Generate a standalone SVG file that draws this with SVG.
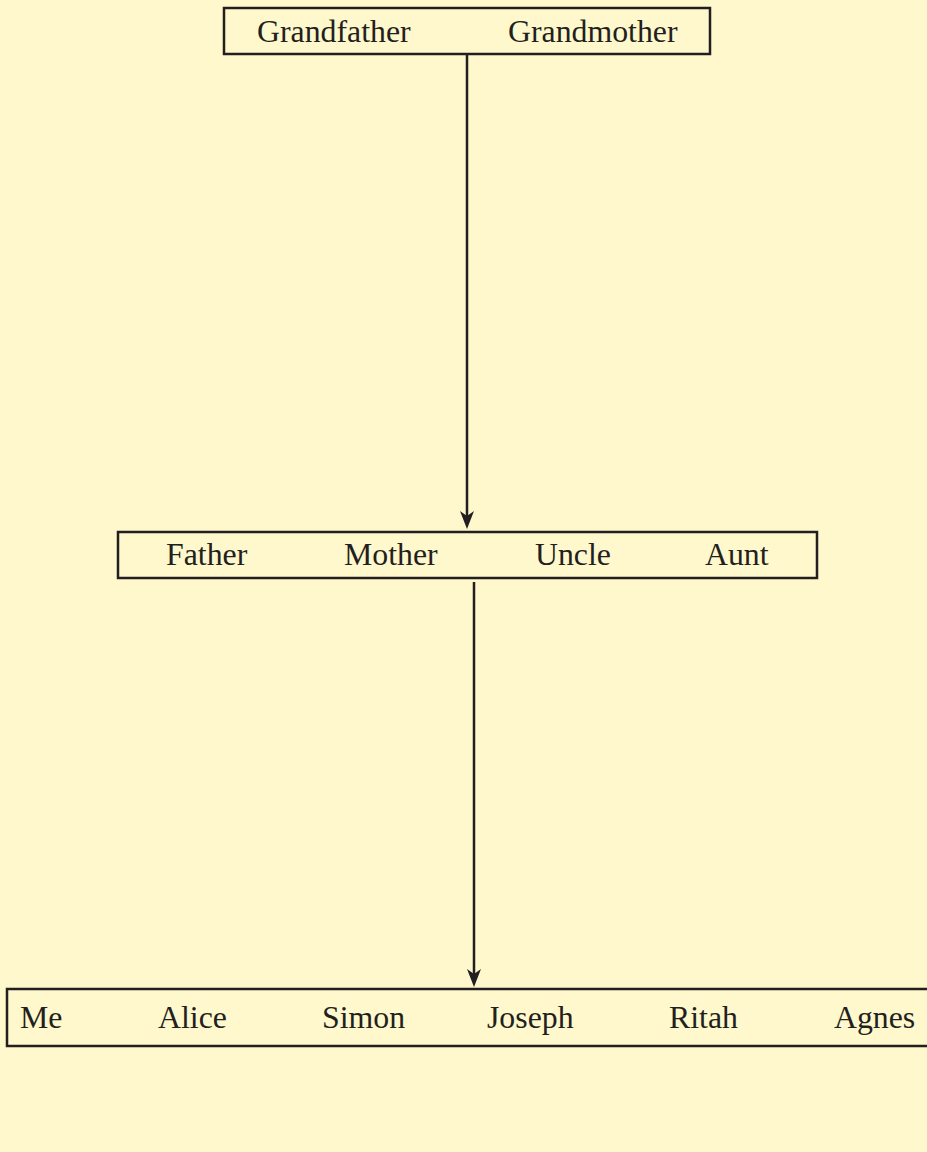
<svg xmlns="http://www.w3.org/2000/svg" width="927" height="1152" viewBox="0 0 927 1152">
<style>
.box{fill:none;stroke:#231F20;stroke-width:2.5}
.t{font-family:"Liberation Serif","Times New Roman",serif;font-size:31.8px;fill:#231F20}
.c{stroke:#231F20;stroke-width:2.5;fill:none}
</style>
<defs>
<marker id="ah" markerUnits="userSpaceOnUse" markerWidth="20" markerHeight="14" refX="9" refY="7" orient="auto" viewBox="0 0 20 14">
<path d="M0,0 L5,7 L0,14 L18,7 Z" fill="#231F20"/>
</marker>
</defs>
<rect width="927" height="1152" fill="#FEF8CC"/>
<g id="connectors">
<path class="c" d="M467,55 L467,520" marker-end="url(#ah)"/>
<path class="c" d="M474,582 L474,978" marker-end="url(#ah)"/>
</g>
<g id="grandparents">
<rect class="box" x="224" y="8" width="486" height="46"/>
<text class="t" x="257" y="42">Grandfather</text>
<text class="t" x="508" y="42">Grandmother</text>
</g>
<g id="parents">
<rect class="box" x="118" y="532" width="699" height="46"/>
<text class="t" x="166" y="565">Father</text>
<text class="t" x="344" y="565">Mother</text>
<text class="t" x="535" y="565">Uncle</text>
<text class="t" x="705" y="565">Aunt</text>
</g>
<g id="children">
<rect class="box" x="7" y="989" width="925" height="57"/>
<text class="t" x="20" y="1028">Me</text>
<text class="t" x="158" y="1028">Alice</text>
<text class="t" x="322" y="1028">Simon</text>
<text class="t" x="487" y="1028">Joseph</text>
<text class="t" x="669" y="1028">Ritah</text>
<text class="t" x="834" y="1028">Agnes</text>
</g>
</svg>
